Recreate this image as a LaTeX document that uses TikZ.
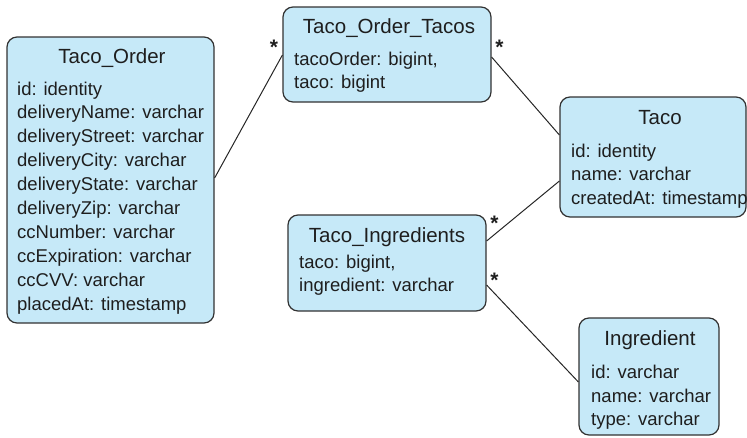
\documentclass[tikz,border=0pt]{standalone}
\usepackage{fontspec}
\setmainfont{Liberation Sans}
\definecolor{boxfill}{RGB}{198,233,248}
\definecolor{boxline}{RGB}{50,50,50}
\definecolor{txt}{RGB}{30,30,30}
\begin{document}
\begin{tikzpicture}[x=1pt,y=-1pt,
  box/.style={draw=boxline, fill=boxfill, line width=1.2pt, rounded corners=10pt, inner sep=0pt},
  title/.style={anchor=base, inner sep=0pt, text=txt, font=\fontsize{20.5}{24}\selectfont},
  field/.style={anchor=base west, inner sep=0pt, text=txt, font=\fontsize{18.5}{22}\selectfont},
  star/.style={anchor=base, inner sep=0pt, text=txt, font=\bfseries\fontsize{21}{24}\selectfont},
  link/.style={draw=black!85, line width=1pt}]
\useasboundingbox (0,0) rectangle (747,437);

% boxes
\node[box, minimum width=207pt, minimum height=286pt] (order) at (110.5,180) {};
\node[box, minimum width=208pt, minimum height=95pt] (ot) at (387,54.5) {};
\node[box, minimum width=186pt, minimum height=120pt] (taco) at (653,157) {};
\node[box, minimum width=198pt, minimum height=96pt] (ti) at (387,263) {};
\node[box, minimum width=140pt, minimum height=117pt] (ing) at (649,376.5) {};

% Taco_Order
\node[title] (orderT) at (112,63) {Taco\_Order};
\node[field] (o1) at (17,95) {id: identity};
\node[field] (o2) at (17,118.9) {deliveryName: varchar};
\node[field] (o3) at (17,142.8) {deliveryStreet: varchar};
\node[field] (o4) at (17,166.7) {deliveryCity: varchar};
\node[field] (o5) at (17,190.6) {deliveryState: varchar};
\node[field] (o6) at (17,214.5) {deliveryZip: varchar};
\node[field] (o7) at (17,238.4) {ccNumber: varchar};
\node[field] (o8) at (17,262.3) {ccExpiration: varchar};
\node[field] (o9) at (17,286.2) {ccCVV: varchar};
\node[field] (o10) at (17,310.1) {placedAt: timestamp};

% Taco_Order_Tacos
\node[title] (otT) at (389,33) {Taco\_Order\_Tacos};
\node[field] (ot1) at (294,65) {tacoOrder: bigint,};
\node[field] (ot2) at (294,88.5) {taco: bigint};

% Taco
\node[title] (tacoT) at (660,124) {Taco};
\node[field] (t1) at (571,157) {id: identity};
\node[field] (t2) at (571,180.5) {name: varchar};
\node[field] (t3) at (571,204) {createdAt: timestamp};

% Taco_Ingredients
\node[title] (tiT) at (387,242) {Taco\_Ingredients};
\node[field] (ti1) at (299,268) {taco: bigint,};
\node[field] (ti2) at (299,291) {ingredient: varchar};

% Ingredient
\node[title] (ingT) at (650,345) {Ingredient};
\node[field] (i1) at (591,378.5) {id: varchar};
\node[field] (i2) at (591,402) {name: varchar};
\node[field] (i3) at (591,425.5) {type: varchar};

% connectors
\draw[link] (order.east |- 0,178) -- (ot.west |- 0,55);
\draw[link] (ot.east |- 0,57) -- (taco.west |- 0,135);
\draw[link] (ti.east |- 0,241) -- (taco.west |- 0,181);
\draw[link] (ti.east |- 0,285) -- (ing.west |- 0,382);

% multiplicities
\node[star] (s1) at (274,54) {*};
\node[star] (s2) at (499.5,54) {*};
\node[star] (s3) at (494.5,230.5) {*};
\node[star] (s4) at (494.5,287) {*};
\end{tikzpicture}
\end{document}
